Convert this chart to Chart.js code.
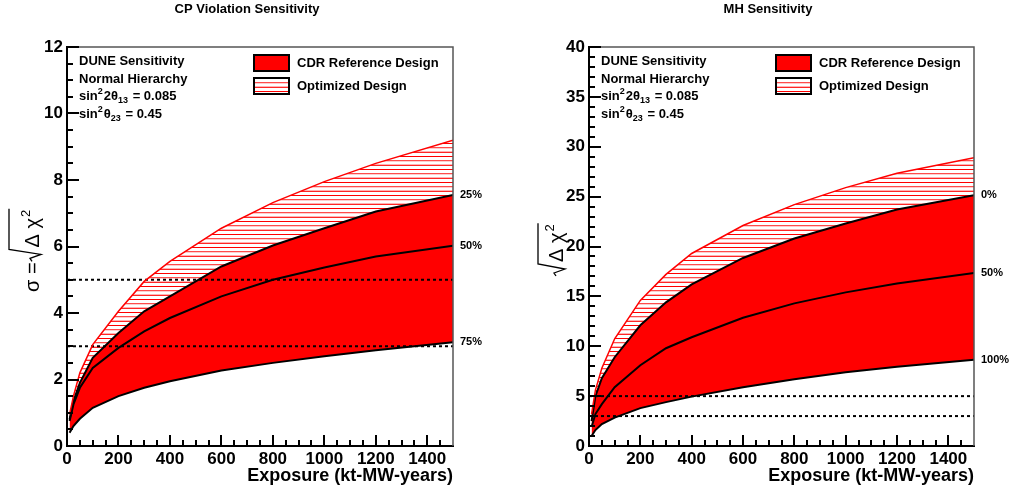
<!DOCTYPE html>
<html>
<head>
<meta charset="utf-8">
<script src="https://cdn.jsdelivr.net/npm/chart.js@4.4.0/dist/chart.umd.min.js"></script>
<style>
  html, body { margin: 0; padding: 0; background: #fff; }
  #wrap { position: relative; width: 1013px; height: 493px; }
  canvas { position: absolute; top: 0; }
</style>
</head>
<body>
<div id="wrap">
  <canvas id="cp" width="506" height="493" style="left:0"></canvas>
  <canvas id="mh" width="506" height="493" style="left:507px"></canvas>
</div>
<script>
// exposure points (kt-MW-years)
const exposure = [10, 25, 50, 100, 200, 300, 400, 600, 800, 1000, 1200, 1500];

// CP violation sensitivity (sigma), fraction of delta_CP coverage
const cpOptimized = [0.95, 1.5, 2.2, 3.05, 4.05, 4.95, 5.55, 6.55, 7.32, 7.95, 8.5, 9.2];
const cp25 = [0.8, 1.35, 1.9, 2.65, 3.4, 4.05, 4.5, 5.4, 6.03, 6.55, 7.05, 7.55];
const cp50 = [0.75, 1.25, 1.75, 2.35, 2.95, 3.45, 3.85, 4.5, 5.0, 5.37, 5.7, 6.02];
const cp75 = [0.4, 0.6, 0.82, 1.15, 1.5, 1.75, 1.95, 2.27, 2.5, 2.7, 2.88, 3.12];

// mass hierarchy sensitivity
const mhOptimized = [3.2, 5.6, 7.8, 10.75, 14.6, 17.2, 19.3, 22.1, 24.2, 25.9, 27.35, 28.9];
const mh0 = [2.5, 5.0, 6.8, 8.9, 12.1, 14.4, 16.2, 18.85, 20.8, 22.3, 23.7, 25.15];
const mh50 = [1.9, 3.2, 4.2, 5.9, 8.1, 9.8, 10.9, 12.85, 14.3, 15.4, 16.3, 17.35];
const mh100 = [1.0, 1.6, 2.2, 2.85, 3.8, 4.4, 4.95, 5.9, 6.7, 7.4, 7.95, 8.65];

const sigmaLevels = [5, 3];
const cpLabels = ['25%', '50%', '75%'];
const mhLabels = ['0%', '50%', '100%'];
const legendLabels = ['CDR Reference Design', 'Optimized Design'];

const FONT = 'Liberation Sans';
Chart.defaults.font.family = FONT;
Chart.defaults.color = '#000';

const hatch = (() => {
  const c = document.createElement('canvas');
  c.width = 8; c.height = 13;
  const g = c.getContext('2d');
  [[0, 1], [4, 0.7], [5, 0.2], [8, 0.3], [9, 0.85]].forEach(([row, a]) => {
    g.fillStyle = `rgba(255,0,0,${a})`;
    g.fillRect(0, row, 8, 1);
  });
  return g.createPattern(c, 'repeat');
})();

const toPoints = (arr) => exposure.map((x, i) => ({ x, y: arr[i] }));

const drawRich = (ctx, x, y, parts) => {
  parts.forEach(([text, kind]) => {
    const small = kind !== '';
    ctx.font = `bold ${small ? 9 : 13}px ${FONT}`;
    const dy = kind === 'sup' ? -6 : kind === 'sub' ? 3 : 0;
    ctx.fillText(text, x, y + dy);
    x += ctx.measureText(text).width + (small ? 1 : 0);
  });
};

const drawSqrtTitle = (ctx, bx, by, prefix, H) => {
  ctx.save();
  ctx.translate(bx, by);
  ctx.rotate(-Math.PI / 2);
  ctx.fillStyle = '#000';
  ctx.strokeStyle = '#000';
  ctx.lineWidth = 1.3;
  ctx.textAlign = 'left';
  ctx.textBaseline = 'alphabetic';
  ctx.font = `20px ${FONT}`;
  let u = 0;
  if (prefix) {
    ctx.fillText(prefix, 0, 0);
    u += ctx.measureText(prefix).width + 1;
  }
  const start = u + 14;
  ctx.fillText('Δ χ', start, 0);
  let w = ctx.measureText('Δ χ').width;
  ctx.font = `13px ${FONT}`;
  ctx.fillText('2', start + w + 1, -9);
  w += ctx.measureText('2').width + 2;
  ctx.beginPath();
  ctx.moveTo(u, -7);
  ctx.lineTo(u + 3, -9);
  ctx.lineTo(u + 7, 2);
  ctx.lineTo(u + 12, -H);
  ctx.lineTo(start + w, -H);
  ctx.stroke();
  ctx.restore();
};

const decorate = (info) => ({
  id: 'decorate',
  afterDraw(chart) {
    const { ctx, chartArea: a, scales: { x, y } } = chart;
    ctx.save();

    // top / right frame
    ctx.strokeStyle = '#555';
    ctx.lineWidth = 1.5;
    ctx.beginPath();
    ctx.moveTo(a.left, a.top);
    ctx.lineTo(a.right, a.top);
    ctx.lineTo(a.right, a.bottom);
    ctx.stroke();

    // ticks drawn inside the frame
    ctx.strokeStyle = '#000';
    ctx.lineWidth = 2;
    ctx.beginPath();
    for (let v = 0; v <= info.yMax + 1e-9; v += info.yMinor) {
      const py = Math.round(y.getPixelForValue(v));
      const len = Math.abs(v % info.yStep) < 1e-6 ? 12 : 6;
      ctx.moveTo(a.left, py);
      ctx.lineTo(a.left + len, py);
    }
    for (let v = 0; v < 1500; v += 50) {
      const px = Math.round(x.getPixelForValue(v));
      const len = v % 200 === 0 ? 11 : 6;
      ctx.moveTo(px, a.bottom);
      ctx.lineTo(px, a.bottom - len);
    }
    ctx.stroke();

    ctx.fillStyle = '#000';
    // percent labels at curve ends
    ctx.font = `bold 11px ${FONT}`;
    ctx.textAlign = 'left';
    ctx.textBaseline = 'middle';
    info.ends.forEach(([text, arr]) => {
      ctx.fillText(text, a.right + 7, y.getPixelForValue(arr[arr.length - 1]));
    });

    // title
    ctx.font = `bold 13px ${FONT}`;
    ctx.textAlign = 'center';
    ctx.fillText(info.title, info.titleX, 9);

    // info block
    ctx.textAlign = 'left';
    ctx.textBaseline = 'alphabetic';
    const tx = a.left + 12;
    ctx.font = `bold 13px ${FONT}`;
    ctx.fillText('DUNE Sensitivity', tx, 65);
    ctx.fillText('Normal Hierarchy', tx, 82.5);
    drawRich(ctx, tx, 100, [['sin', ''], ['2', 'sup'], ['2θ', ''], ['13', 'sub'], [' = 0.085', '']]);
    drawRich(ctx, tx, 118, [['sin', ''], ['2', 'sup'], ['θ', ''], ['23', 'sub'], [' = 0.45', '']]);

    // legend
    const lx = a.left + 187;
    [[55, 'red'], [78, hatch]].forEach(([ly, fill], i) => {
      ctx.fillStyle = '#fff';
      ctx.fillRect(lx, ly, 35, 16);
      ctx.fillStyle = fill;
      ctx.fillRect(lx, ly, 35, 16);
      ctx.strokeStyle = '#000';
      ctx.lineWidth = 2;
      ctx.strokeRect(lx, ly, 35, 16);
      ctx.fillStyle = '#000';
      ctx.font = `bold 13px ${FONT}`;
      ctx.fillText(legendLabels[i], lx + 43, ly + 12);
    });

    drawSqrtTitle(ctx, info.ytX, info.ytY, info.ytPrefix, info.ytH);
    ctx.restore();
  }
});

const makeChart = (id, opts) => {
  const datasets = [
    { data: toPoints(opts.optimized), borderColor: 'red', borderWidth: 1.5,
      backgroundColor: hatch, fill: { target: 1 } },
    { data: toPoints(opts.upper), borderColor: '#000', borderWidth: 2,
      backgroundColor: 'red', fill: { target: 3 } },
    { data: toPoints(opts.middle), borderColor: '#000', borderWidth: 2, fill: false },
    { data: toPoints(opts.lower), borderColor: '#000', borderWidth: 2, fill: false },
  ];
  sigmaLevels.forEach((s) => {
    datasets.push({
      data: [{ x: 0, y: s }, { x: 1500, y: s }],
      borderColor: '#000', borderWidth: 2, borderDash: [3, 3], fill: false,
    });
  });

  return new Chart(document.getElementById(id), {
    type: 'line',
    data: { datasets },
    options: {
      responsive: false,
      animation: false,
      devicePixelRatio: 1,
      layout: { padding: { top: 47, right: opts.padRight, left: 0, bottom: 0 } },
      elements: { point: { radius: 0 }, line: { tension: 0 } },
      plugins: {
        legend: { display: false },
        tooltip: { enabled: false },
        filler: { drawTime: 'beforeDatasetsDraw' },
      },
      scales: {
        x: {
          type: 'linear',
          min: 0,
          max: 1500,
          grid: { display: false, drawTicks: false },
          border: { color: '#000', width: 2 },
          ticks: {
            stepSize: 200,
            includeBounds: false,
            autoSkip: false,
            maxRotation: 0,
            padding: 3,
            font: { size: 17, weight: 'bold' },
            callback: (v) => String(v),
          },
          afterFit: (s) => { s.height = 47; },
          title: {
            display: true,
            text: 'Exposure (kt-MW-years)',
            align: 'end',
            font: { size: 18, weight: 'bold' },
            padding: { top: 0, bottom: 6 },
          },
        },
        y: {
          min: 0,
          max: opts.yMax,
          grid: { display: false, drawTicks: false },
          border: { color: '#000', width: 2 },
          ticks: { stepSize: opts.yStep, padding: 4, font: { size: 17, weight: 'bold' } },
          afterFit: (s) => { s.width = opts.axisWidth; },
        },
      },
    },
    plugins: [decorate(opts)],
  });
};

makeChart('cp', {
  optimized: cpOptimized, upper: cp25, middle: cp50, lower: cp75,
  yMax: 12, yStep: 2, yMinor: 0.5, padRight: 53, axisWidth: 67,
  title: 'CP Violation Sensitivity', titleX: 247,
  ends: [[cpLabels[0], cp25], [cpLabels[1], cp50], [cpLabels[2], cp75]],
  ytX: 39, ytY: 292, ytPrefix: 'σ =', ytH: 30,
});

makeChart('mh', {
  optimized: mhOptimized, upper: mh0, middle: mh50, lower: mh100,
  yMax: 40, yStep: 5, yMinor: 1, padRight: 39, axisWidth: 82,
  title: 'MH Sensitivity', titleX: 261,
  ends: [[mhLabels[0], mh0], [mhLabels[1], mh50], [mhLabels[2], mh100]],
  ytX: 56, ytY: 276, ytPrefix: '', ytH: 25,
});
</script>
</body>
</html>
